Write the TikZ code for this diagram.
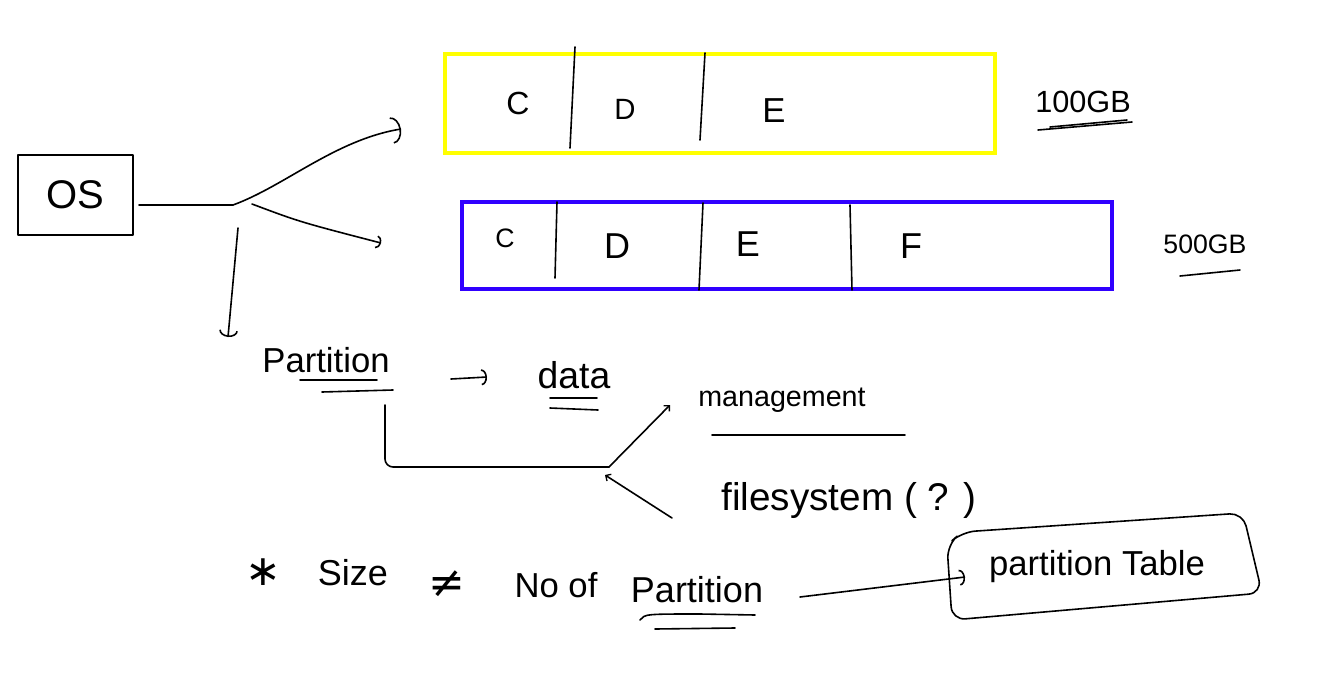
\documentclass[tikz,border=0pt]{standalone}
\usepackage{fontspec}
\setmainfont{Liberation Sans}
\newfontfamily\symbolfont{DejaVu Sans}
\usetikzlibrary{arrows.meta}
\definecolor{diskyellow}{RGB}{255,255,0}
\definecolor{diskblue}{RGB}{48,0,255}
\begin{document}
\begin{tikzpicture}[x=0.75pt,y=-0.75pt,
  pen/.style={line width=1.2pt, line cap=round, line join=round},
  hd/.style={-{Arc Barb[length=#1*0.35pt,width=#1*1pt,line width=1.2pt]}},
  sm/.style={-{Straight Barb[length=3pt,width=6pt,line width=1pt]}},
  tx/.style={inner sep=0pt, font=\fontsize{#1}{#1}\selectfont},
  sx/.style={inner sep=0pt, font=\fontsize{#1}{#1}\selectfont\symbolfont},
  diskline/.style={draw=#1, line width=3pt}]
\useasboundingbox (0,0) rectangle (1340,689);

% OS box and branches
\node[draw, pen, minimum width=86pt, minimum height=60pt, tx=30] (os) at (75.5,195) {OS};
\coordinate (hub) at (233,205);
\coordinate (hubR) at (252,204);
\coordinate (hubD) at (238,228);
\coordinate (ar1) at (401,129);
\coordinate (ar2) at (381,243);
\coordinate (ar3) at (228,337);
\draw[pen, shorten <=4pt] (os.east |- hub) -- (hub);
\draw[pen, hd=20] (hub) .. controls (285,186) and (335,140) .. (ar1);
\draw[pen, hd=10] (hubR) .. controls (300,222) .. (ar2);
\draw[pen, hd=14] (hubD) -- (ar3);

% disk 1 (100GB)
\coordinate (dk1a) at (445,54); \coordinate (dk1b) at (995,153);
\draw[diskline=diskyellow] (dk1a) rectangle (dk1b);
\coordinate (y1a) at (575,47); \coordinate (y1b) at (570,148);
\coordinate (y2a) at (705,53); \coordinate (y2b) at (700,140);
\draw[pen] (y1a) -- (y1b);
\draw[pen] (y2a) -- (y2b);
\node[tx=24] (c1) at (518,103) {C};
\node[tx=22] (d1) at (625,109) {D};
\node[tx=26] (e1) at (774,111) {E};
\node[tx=23] (g1) at (1083,102) {100GB};
\coordinate (u1a) at (1038,130); \coordinate (u1b) at (1132,122);
\coordinate (u2a) at (1050,127); \coordinate (u2b) at (1127,120);
\draw[pen] (u1a) -- (u1b);
\draw[pen] (u2a) -- (u2b);

% disk 2 (500GB)
\coordinate (dk2a) at (462,202); \coordinate (dk2b) at (1112,289);
\draw[diskline=diskblue] (dk2a) rectangle (dk2b);
\coordinate (b1a) at (557,202); \coordinate (b1b) at (555,278);
\coordinate (b2a) at (703,203); \coordinate (b2b) at (699,290);
\coordinate (b3a) at (850,205); \coordinate (b3b) at (852,290);
\draw[pen] (b1a) -- (b1b);
\draw[pen] (b2a) -- (b2b);
\draw[pen] (b3a) -- (b3b);
\node[tx=20] (c2) at (505,238) {C};
\node[tx=27] (d2) at (617,246) {D};
\node[tx=27] (e2) at (748,244) {E};
\node[tx=27] (f2) at (911,246) {F};
\node[tx=20] (g2) at (1205,244) {500GB};
\coordinate (u3a) at (1180,276); \coordinate (u3b) at (1240,270);
\draw[pen] (u3a) -- (u3b);

% Partition -> data
\node[tx=26] (part) at (326,360) {Partition};
\coordinate (p1a) at (300,380); \coordinate (p1b) at (377,380);
\coordinate (p2a) at (322,392); \coordinate (p2b) at (393,390);
\draw[pen] (p1a) -- (p1b);
\draw[pen] (p2a) -- (p2b);
\coordinate (pa) at (451,379); \coordinate (pb) at (487,377);
\draw[pen, hd=12] (pa) -- (pb);
\node[tx=28] (data) at (574,375) {data};
\coordinate (d1a) at (550,398); \coordinate (d1b) at (597,398);
\coordinate (d2a) at (550,408); \coordinate (d2b) at (598,410);
\draw[pen] (d1a) -- (d1b);
\draw[pen] (d2a) -- (d2b);

% management / filesystem
\coordinate (ps) at (385,405);
\coordinate (pj) at (609,467);
\coordinate (mg) at (670,405);
\coordinate (fs0) at (672,518);
\coordinate (fs1) at (605,475);
\draw[pen, rounded corners=6pt] (ps) |- (pj);
\draw[pen, sm] (pj) -- (mg);
\draw[pen, sm] (fs0) -- (fs1);
\node[tx=21.5] (mgmt) at (782,400) {management};
\coordinate (m1a) at (712,435); \coordinate (m1b) at (905,435);
\draw[pen] (m1a) -- (m1b);
\node[tx=29] (fsys) at (849,500) {filesystem ( ? )};

% bottom note
\node[sx=32] (star) at (263,572) {∗};
\node[tx=27] (size) at (353,573) {Size};
\node[sx=33] (neq) at (447,584) {≠};
\node[tx=26] (noof) at (556,585) {No of};
\node[tx=27] (part2) at (697,590) {Partition};
\coordinate (q1a) at (640,620); \coordinate (q1b) at (755,615);
\coordinate (q2a) at (655,629); \coordinate (q2b) at (735,628);
\draw[pen] (q1a) .. controls (645,614) .. (700,614) -- (q1b);
\draw[pen] (q2a) -- (q2b);

% Partition Table
\coordinate (t1) at (947,545); \coordinate (t2) at (962,532);
\coordinate (t3) at (1243,513); \coordinate (t4) at (1262,593);
\coordinate (t5) at (952,620);
\draw[pen, rounded corners=10pt] (t2) -- (t3) -- (t4) -- (t5) -- (t1) -- cycle;
\node[tx=26] (ptab) at (1097,567) {partition Table};
\coordinate (la) at (800,597); \coordinate (lb) at (965,577);
\draw[pen, hd=12] (la) -- (lb);
\end{tikzpicture}
\end{document}
